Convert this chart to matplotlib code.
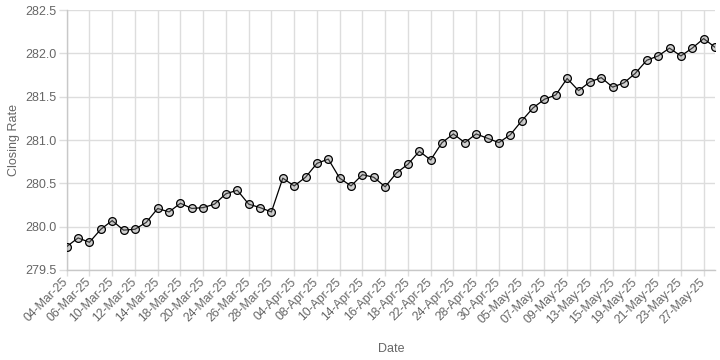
import matplotlib
matplotlib.use('Agg')

import matplotlib.pyplot as plt
import numpy as np

# closing rate per trading day
dates = ['04-Mar-25', '05-Mar-25', '06-Mar-25', '07-Mar-25', '10-Mar-25',
         '11-Mar-25', '12-Mar-25', '13-Mar-25', '14-Mar-25', '17-Mar-25',
         '18-Mar-25', '19-Mar-25', '20-Mar-25', '21-Mar-25', '24-Mar-25',
         '25-Mar-25', '26-Mar-25', '27-Mar-25', '28-Mar-25', '03-Apr-25',
         '04-Apr-25', '07-Apr-25', '08-Apr-25', '09-Apr-25', '10-Apr-25',
         '11-Apr-25', '14-Apr-25', '15-Apr-25', '16-Apr-25', '17-Apr-25',
         '18-Apr-25', '21-Apr-25', '22-Apr-25', '23-Apr-25', '24-Apr-25',
         '25-Apr-25', '28-Apr-25', '29-Apr-25', '30-Apr-25', '02-May-25',
         '05-May-25', '06-May-25', '07-May-25', '08-May-25', '09-May-25',
         '12-May-25', '13-May-25', '14-May-25', '15-May-25', '16-May-25',
         '19-May-25', '20-May-25', '21-May-25', '22-May-25', '23-May-25',
         '26-May-25', '27-May-25', '28-May-25']
rates = [279.77, 279.87, 279.82, 279.97, 280.07, 279.96, 279.97, 280.05,
         280.21, 280.17, 280.27, 280.21, 280.22, 280.26, 280.38, 280.42,
         280.26, 280.22, 280.17, 280.56, 280.47, 280.57, 280.73, 280.78,
         280.56, 280.47, 280.60, 280.57, 280.46, 280.62, 280.72, 280.87,
         280.77, 280.97, 281.07, 280.97, 281.07, 281.02, 280.97, 281.06,
         281.22, 281.37, 281.47, 281.52, 281.71, 281.57, 281.67, 281.72,
         281.61, 281.66, 281.77, 281.92, 281.97, 282.06, 281.97, 282.06,
         282.17, 282.07]
y_ticks = [279.5, 280.0, 280.5, 281.0, 281.5, 282.0, 282.5]

plt.rcParams['font.family'] = ['Liberation Sans', 'DejaVu Sans']
grey = '#666666'
grid = '#dddddd'

fig = plt.figure(figsize=(7.2, 3.6), dpi=100)
ax = fig.add_axes([66.7 / 720, 0.25, (715 - 66.7) / 720, 0.7222])

x = np.arange(len(dates))
ax.plot(x, rates, '-o', color='black', lw=0.9,
        markersize=5.6, markeredgewidth=0.9, markeredgecolor='black',
        markerfacecolor=(0.55, 0.55, 0.55, 0.4), zorder=3)

ax.set_xlim(0, len(dates) - 1)
ax.set_ylim(y_ticks[0], y_ticks[-1])

# every other date is labelled (auto skip)
ax.set_xticks(x[::2])
ax.set_xticklabels(dates[::2], rotation=45, ha='right', va='center',
                   rotation_mode='anchor')
ax.set_yticks(y_ticks)
ax.set_yticklabels([f'{v:.1f}' for v in y_ticks])

ax.tick_params(axis='x', colors=grid, labelcolor=grey, labelsize=8.8,
               length=4.5, width=1, pad=3)
ax.tick_params(axis='y', colors=grid, labelcolor=grey, labelsize=9,
               length=6, width=1, pad=1.5)

ax.grid(True, color=grid, lw=1)
ax.set_axisbelow(True)
for s in ['top', 'right']:
    ax.spines[s].set_visible(False)
for s in ['left', 'bottom']:
    ax.spines[s].set_color('#c8c8c8')
    ax.spines[s].set_linewidth(1)

ax.set_ylabel('Closing Rate', color=grey, fontsize=9)
ax.yaxis.set_label_coords(-0.072, 0.5)
ax.set_xlabel('Date', color=grey, fontsize=9)
ax.xaxis.set_label_coords(0.5, -0.28)

plt.savefig('out.png', dpi=100)
